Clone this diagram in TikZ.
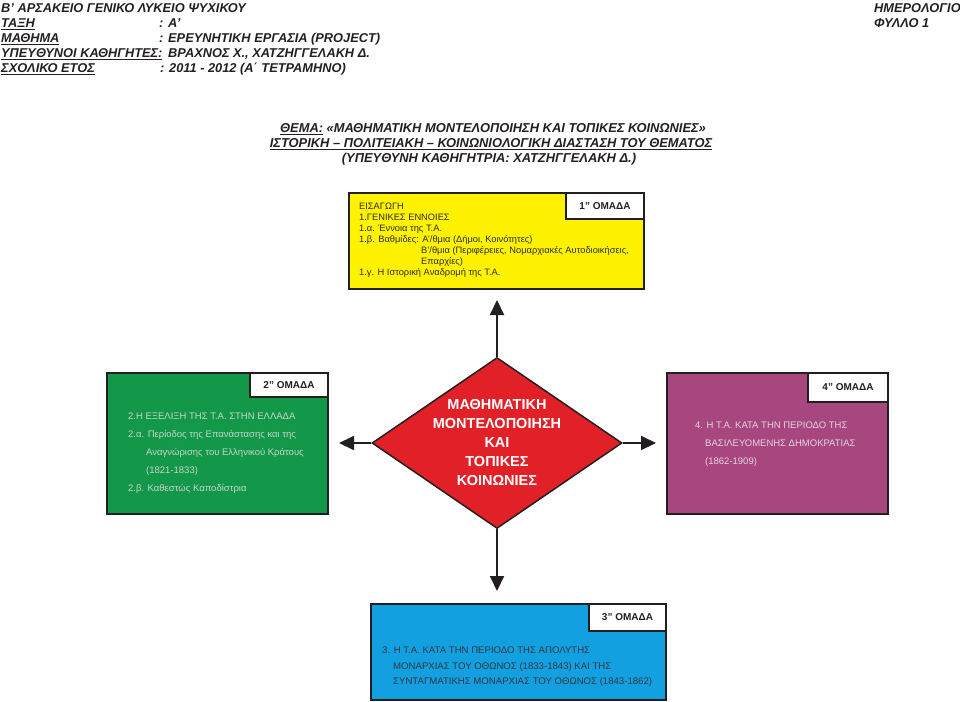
\documentclass[tikz,border=0pt]{standalone}
\usepackage{fontspec}
\setmainfont{Liberation Sans}
\usetikzlibrary{shapes.geometric,arrows.meta}
\definecolor{ink}{RGB}{35,31,32}
\definecolor{yel}{RGB}{255,242,0}
\definecolor{grn}{RGB}{18,152,72}
\definecolor{rd}{RGB}{226,32,40}
\definecolor{prp}{RGB}{168,70,128}
\definecolor{blu}{RGB}{18,160,225}
\definecolor{gtxt}{RGB}{200,214,200}
\definecolor{ptxt}{RGB}{225,215,222}
\definecolor{btxt}{RGB}{45,55,65}
\definecolor{ytxt}{RGB}{45,45,45}
\tikzset{
  hdr/.style={anchor=base west, inner sep=0, text=ink, font=\bfseries\itshape\fontsize{12.8}{15}\selectfont},
  ttl/.style={anchor=base, inner sep=0, text=ink, font=\bfseries\itshape\fontsize{12.9}{15}\selectfont},
  panel/.style={draw=ink, line width=2pt, anchor=north west, inner sep=0},
  tag/.style={draw=ink, line width=2pt, fill=white, anchor=north east, inner sep=0, text=ink, font=\bfseries\fontsize{10}{12}\selectfont},
  ytx/.style={anchor=base west, inner sep=0, text=ytxt, font=\fontsize{9.3}{11}\selectfont},
  gtx/.style={anchor=base west, inner sep=0, text=gtxt, font=\fontsize{9.5}{11}\selectfont},
  ptx/.style={anchor=base west, inner sep=0, text=ptxt, font=\fontsize{9.5}{11}\selectfont},
  btx/.style={anchor=base west, inner sep=0, text=btxt, font=\fontsize{9.6}{11}\selectfont},
  arr/.style={draw=ink, line width=2pt, -{Triangle[length=15pt,width=14pt]}, shorten >=10pt}
}
\begin{document}
\begin{tikzpicture}[x=1pt,y=-1pt]
\useasboundingbox (0,0) rectangle (960,701);
% header
\node[hdr] (h1) at (1,12.5) {Β' ΑΡΣΑΚΕΙΟ ΓΕΝΙΚΟ ΛΥΚΕΙΟ ΨΥΧΙΚΟΥ};
\node[hdr] (h2) at (1,27.5) {\underline{ΤΑΞΗ}};
\node[hdr] (h2b) at (159,27.5) {: Α'};
\node[hdr] (h3) at (1,42.5) {\underline{ΜΑΘΗΜΑ}};
\node[hdr] (h3b) at (159,42.5) {: ΕΡΕΥΝΗΤΙΚΗ ΕΡΓΑΣΙΑ (PROJECT)};
\node[hdr] (h4) at (1,57.5) {\underline{ΥΠΕΥΘΥΝΟΙ ΚΑΘΗΓΗΤΕΣ:}};
\node[hdr] (h4b) at (168,57.5) {ΒΡΑΧΝΟΣ Χ., ΧΑΤΖΗΓΓΕΛΑΚΗ Δ.};
\node[hdr] (h5) at (1,72.5) {\underline{ΣΧΟΛΙΚΟ ΕΤΟΣ}};
\node[hdr] (h5b) at (160,72.5) {: 2011 - 2012 (Α΄ ΤΕΤΡΑΜΗΝΟ)};
\node[hdr] (r1) at (874,12.5) {ΗΜΕΡΟΛΟΓΙΟ};
\node[hdr] (r2) at (874,27.5) {ΦΥΛΛΟ 1};
% title
\node[ttl] (t1) at (493,132.5) {\underline{ΘΕΜΑ:} «ΜΑΘΗΜΑΤΙΚΗ ΜΟΝΤΕΛΟΠΟΙΗΣΗ ΚΑΙ ΤΟΠΙΚΕΣ ΚΟΙΝΩΝΙΕΣ»};
\node[ttl] (t2) at (491,147.5) {\underline{ΙΣΤΟΡΙΚΗ – ΠΟΛΙΤΕΙΑΚΗ – ΚΟΙΝΩΝΙΟΛΟΓΙΚΗ ΔΙΑΣΤΑΣΗ ΤΟΥ ΘΕΜΑΤΟΣ}};
\node[ttl] (t3) at (489,162.5) {(ΥΠΕΥΘΥΝΗ ΚΑΘΗΓΗΤΡΙΑ: ΧΑΤΖΗΓΓΕΛΑΚΗ Δ.)};
% yellow panel
\node[panel, fill=yel, minimum width=295pt, minimum height=96pt] (yb) at (348,192) {};
\node[tag, minimum width=78pt, minimum height=26pt] (yt) at (yb.north east) {1" ΟΜΑΔΑ};
\node[ytx] (y1) at (359,209.5) {ΕΙΣΑΓΩΓΗ};
\node[ytx] (y2) at (359,220.5) {1.ΓΕΝΙΚΕΣ ΕΝΝΟΙΕΣ};
\node[ytx] (y3) at (359,231.5) {1.α. Έννοια της Τ.Α.};
\node[ytx] (y4) at (359,242.5) {1.β. Βαθμίδες: Α'/θμια (Δήμοι, Κοινότητες)};
\node[ytx] (y5) at (421,253.5) {Β'/θμια (Περιφέρειες, Νομαρχιακές Αυτοδιοικήσεις,};
\node[ytx] (y6) at (421,264.5) {Επαρχίες)};
\node[ytx] (y7) at (359,275) {1.γ. Η Ιστορική Αναδρομή της Τ.Α.};
% green panel
\node[panel, fill=grn, minimum width=221pt, minimum height=141pt] (gb) at (106,372) {};
\node[tag, minimum width=78pt, minimum height=24pt] (gt) at (gb.north east) {2" ΟΜΑΔΑ};
\node[gtx] (g1) at (128,419.4) {2.Η ΕΞΕΛΙΞΗ ΤΗΣ Τ.Α. ΣΤΗΝ ΕΛΛΑΔΑ};
\node[gtx] (g2) at (128,437.4) {2.α. Περίοδος της Επανάστασης και της};
\node[gtx] (g3) at (146,455.4) {Αναγνώρισης του Ελληνικού Κράτους};
\node[gtx] (g4) at (146,473.4) {(1821-1833)};
\node[gtx] (g5) at (128,491.4) {2.β. Καθεστώς Καποδίστρια};
% purple panel
\node[panel, fill=prp, minimum width=221pt, minimum height=141pt] (pb) at (666,372) {};
\node[tag, minimum width=80pt, minimum height=29pt] (pt) at (pb.north east) {4" ΟΜΑΔΑ};
\node[ptx] (p1) at (695,428.4) {4. Η Τ.Α. ΚΑΤΑ ΤΗΝ ΠΕΡΙΟΔΟ ΤΗΣ};
\node[ptx] (p2) at (705,446.4) {ΒΑΣΙΛΕΥΟΜΕΝΗΣ ΔΗΜΟΚΡΑΤΙΑΣ};
\node[ptx] (p3) at (705,464.4) {(1862-1909)};
% blue panel
\node[panel, fill=blu, minimum width=295pt, minimum height=96pt] (bb) at (370,603) {};
\node[tag, minimum width=77pt, minimum height=27pt] (bt) at (bb.north east) {3" ΟΜΑΔΑ};
\node[btx] (b1) at (382,653.4) {3. Η Τ.Α. ΚΑΤΑ ΤΗΝ ΠΕΡΙΟΔΟ ΤΗΣ ΑΠΟΛΥΤΗΣ};
\node[btx] (b2) at (393,669.4) {ΜΟΝΑΡΧΙΑΣ ΤΟΥ ΟΘΩΝΟΣ (1833-1843) ΚΑΙ ΤΗΣ};
\node[btx] (b3) at (393,684.4) {ΣΥΝΤΑΓΜΑΤΙΚΗΣ ΜΟΝΑΡΧΙΑΣ ΤΟΥ ΟΘΩΝΟΣ (1843-1862)};
% diamond
\node[diamond, draw=ink, line width=1.5pt, fill=rd, minimum width=250pt, minimum height=171pt, inner sep=0] (d) at (497,443) {};
\node[align=center, inner sep=0, text=white, font=\bfseries\fontsize{14.5}{19}\selectfont] (dt) at (497,443) {ΜΑΘΗΜΑΤΙΚΗ\\ΜΟΝΤΕΛΟΠΟΙΗΣΗ\\ΚΑΙ\\ΤΟΠΙΚΕΣ\\ΚΟΙΝΩΝΙΕΣ};
% arrows
\draw[arr] (d.north) -- (d.north |- yb.south);
\draw[arr] (d.west) -- (d.west -| gb.east);
\draw[arr] (d.east) -- (d.east -| pb.west);
\draw[arr, shorten >=12pt] (d.south) -- (d.south |- bb.north);
\end{tikzpicture}
\end{document}
